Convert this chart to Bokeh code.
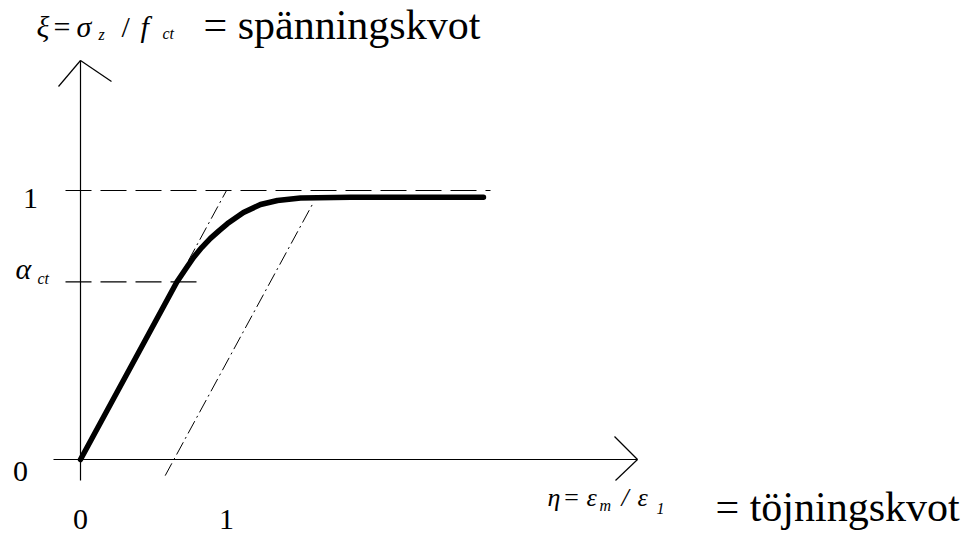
from bokeh.plotting import figure
from bokeh.models import Range1d
from bokeh.core.properties import value
from bokeh.embed import file_html
from bokeh.resources import INLINE

# ---- diagram values (strain ratio eta, stress ratio xi) ----
alpha_ct = 0.66          # end of the linear branch
curve_eta = [0.0, 0.66, 0.72, 0.774, 0.83, 0.890, 0.95, 1.007, 1.116, 1.233, 1.349, 1.507, 1.849, 2.76]
curve_xi = [0.0, 0.66, 0.708, 0.751, 0.788, 0.822, 0.851, 0.877, 0.918, 0.948, 0.963, 0.972, 0.975, 0.975]
tangent_eta = [alpha_ct, 1.0]
tangent_xi = [alpha_ct, 1.0]
unload_eta = [0.58, 1.59]
unload_xi = [-0.06, 0.95]
x_ticks = [0, 1]
x_tick_labels = ["0", "1"]
y_ticks = [0, 1]
y_tick_labels = ["0", "1"]

# ---- canvas layout: origin in pixels and pixels per unit ----
W, H = 970, 533
OX, OY = 80, 459
SX, SY = 146, 269


def dx(px):
    return (px - OX) / SX


def dy(py):
    return (OY - py) / SY


p = figure(width=W, height=H, output_backend="svg", toolbar_location=None,
           x_range=Range1d(dx(0), dx(W)), y_range=Range1d(dy(H), dy(0)),
           x_axis_location=None, y_axis_location=None, min_border=0,
           outline_line_color=None, background_fill_color="white",
           border_fill_color="white")
p.grid.visible = False

ink = "black"
serif = value("serif")
DESC = 0.216  # font descent in em; texts are anchored at the bottom of their box


def text_group(items, size, style="normal", align="left"):
    """items: (x in data units, baseline in pixels, text) drawn with one font."""
    p.text(x=[i[0] for i in items], y=[dy(i[1] + DESC * size) for i in items],
           text=[i[2] for i in items], text_font=serif, text_font_style=style,
           text_font_size=f"{size}px", text_align=align, text_color=ink)


# tick labels
text_group([(x_ticks[0], 522, x_tick_labels[0]), (x_ticks[1], 522, x_tick_labels[1]),
            (dx(20), 474, y_tick_labels[0]), (dx(30), 201, y_tick_labels[1])],
           30, align="center")

# upright operators of the vertical axis title
text_group([(dx(53), 36, "="), (dx(121), 36, "/")], 30)

# italic symbols: xi, sigma, f and alpha
text_group([(dx(36), 36, "ξ"), (dx(76), 36, "σ"), (dx(140), 36, "f"), (dx(15), 278, "α")],
           30, "italic")

# subscripts
text_group([(dx(98), 39, "z"), (dx(162), 38, "ct"), (dx(37), 283, "ct"),
            (dx(599), 510, "m"), (dx(656), 510, "1")], 16, "italic")

# horizontal axis formula
text_group([(dx(547), 506, "η"), (dx(562), 506, "="), (dx(586), 506, "ε"),
            (dx(621), 506, "/"), (dx(637), 506, "ε")], 26, "italic")

# Swedish axis names
text_group([(dx(203), 38, "= spänningskvot"), (dx(715), 520, "= töjningskvot")], 42)

# axes with open arrowheads
tip_x, tip_y = dx(637), dy(60)
p.segment(x0=[dx(53), 0, dx(614), dx(615), dx(58), dx(111)],
          y0=[0, dy(480), dy(436), dy(480), dy(86), dy(81)],
          x1=[tip_x, 0, tip_x, tip_x, 0, 0],
          y1=[0, tip_y, 0, 0, tip_y, tip_y],
          line_color=ink, line_width=1.2)

# horizontal reference levels at 1 and alpha_ct
p.segment(x0=[dx(65), dx(65)], y0=[1, alpha_ct], x1=[dx(490), dx(203)], y1=[1, alpha_ct],
          line_color=ink, line_width=1.2, line_dash="26 9")

# tangent of the linear branch and the parallel unloading line
p.segment(x0=[tangent_eta[0], unload_eta[0]], y0=[tangent_xi[0], unload_xi[0]],
          x1=[tangent_eta[1], unload_eta[1]], y1=[tangent_xi[1], unload_xi[1]],
          line_color=ink, line_width=1, line_dash="14 4 2 4")

# stress-strain curve
p.multi_line(xs=[curve_eta], ys=[curve_xi], line_color=ink, line_width=5.5,
             line_cap="round", line_join="round")

open("out.html", "w").write(file_html(p, INLINE))
